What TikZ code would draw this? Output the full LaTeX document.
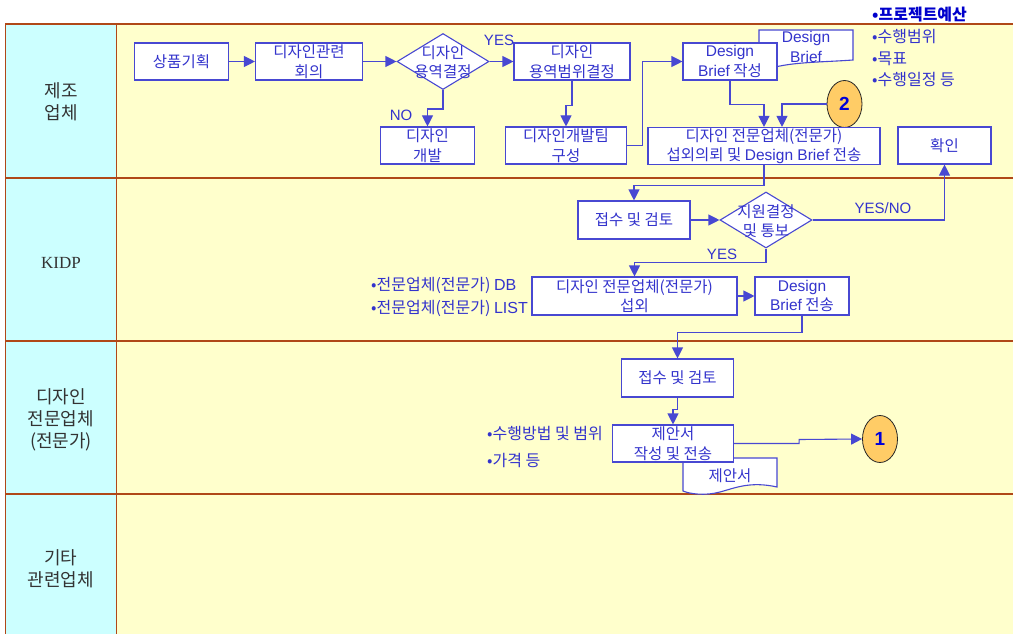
\documentclass[tikz,border=0pt]{standalone}
\usepackage{fontspec}
\newfontfamily\cjk{Noto Sans CJK KR}
\newfontfamily\lsans{Liberation Sans}
\newfontfamily\lserif{Liberation Serif}
\newcommand\lt[1]{{\lsans #1}}
\usetikzlibrary{arrows.meta,shapes.geometric}
\definecolor{bline}{RGB}{72,72,210}
\definecolor{btext}{RGB}{51,51,204}
\definecolor{lanebg}{RGB}{255,255,204}
\definecolor{labbg}{RGB}{204,255,255}
\definecolor{laneln}{RGB}{176,72,24}
\definecolor{circfill}{RGB}{255,204,102}
\begin{document}
\begin{tikzpicture}[x=1pt,y=-1pt,
  box/.style={draw=bline, fill=white, line width=1.1pt, text=btext, align=center, inner sep=0pt, minimum height=37pt, font=\cjk\fontsize{15.5}{19.5}\selectfont},
  dia/.style={diamond, draw=bline, fill=white, line width=1.1pt, inner sep=0pt, minimum width=92pt, minimum height=56pt},
  lbl/.style={text=btext, font=\cjk\fontsize{15.5}{19.5}\selectfont, inner sep=0pt, align=center},
  yn/.style={text=btext, font=\lsans\fontsize{15}{17}\selectfont, inner sep=0pt},
  conn/.style={draw=bline, line width=1.1pt, -{Triangle[length=11pt,width=11pt]}},
  lanetxt/.style={text=black!80, font=\cjk\fontsize{18}{22}\selectfont, align=center, inner sep=0pt},
  circ/.style={ellipse, draw=black!85, fill=circfill, line width=0.8pt, minimum width=35pt, minimum height=47pt, inner sep=0pt, text=blue!85!black, font=\lsans\bfseries\fontsize{19}{21}\selectfont},
  doc/.style={draw=bline, fill=white, line width=1.1pt},
  bul/.style={text=btext, font=\cjk\fontsize{16}{18}\selectfont, inner sep=0pt, anchor=west}
]
\useasboundingbox (0,0) rectangle (1013,634);
\clip (0,0) rectangle (1013,634);
% lanes
\fill[lanebg] (5,24) rectangle (1030,650);
\fill[labbg] (5,24) rectangle (116,650);
\draw[laneln, line width=1.2pt] (5,24) -- (1030,24);
\foreach \yy in {178,341,494} \draw[laneln, line width=1.5pt] (5,\yy) -- (1030,\yy);
\draw[laneln, line width=1pt] (5,24) -- (5,650);
\draw[laneln, line width=1pt] (116,24) -- (116,650);
\node[lanetxt] (L1) at (61,102) {제조\\업체};
\node[lanetxt, font=\lserif\fontsize{17}{20}\selectfont] (L2) at (61,263) {KIDP};
\node[lanetxt] (L3) at (61,420) {디자인\\전문업체\\(전문가)};
\node[lanetxt] (L4) at (61,569) {기타\\관련업체};

% row 1
\node[box, minimum width=94pt] (n1) at (181.5,61.5) {상품기획};
\node[box, minimum width=107pt] (n2) at (309,61.5) {디자인관련\\회의};
\node[dia] (d1) at (443,61.5) {};
\node[lbl] (d1t) at (443,62) {디자인\\용역결정};
\node[box, minimum width=116pt] (n3) at (572,61.5) {디자인\\용역범위결정};
\node[box, minimum width=94pt] (n4) at (427.5,145.5) {디자인\\개발};
\node[box, minimum width=121pt] (n5) at (566,145.5) {디자인개발팀\\구성};
\path[doc] (759,30) -- (853,30) -- (853,60) .. controls (825,62) and (800,62) .. (780,66) .. controls (770,68) and (762,68) .. (759,67) -- cycle;
\node[lbl] (doct1) at (806,47) {\lt{Design}\\\lt{Brief}};
\node[box, minimum width=94pt] (n6) at (730,61.5) {\lt{Design}\\\lt{Brief} 작성};
\node[circ] (c2) at (844.5,104) {2};
\node[box, minimum width=232pt] (n7) at (764,146) {디자인 전문업체(전문가)\\섭외의뢰 및 \lt{Design Brief} 전송};
\node[box, minimum width=93pt] (n8) at (944.5,145.5) {확인};
\node[bul, font=\cjk\bfseries\fontsize{16}{18}\selectfont, text=blue!80!black] (t1) at (872,15) {•프로젝트예산};
\node[bul] (t2) at (872,37) {•수행범위};
\node[bul] (t3) at (872,58.5) {•목표};
\node[bul] (t4) at (872,80) {•수행일정 등};

\draw[conn] (n1.east) -- (n2.west);
\draw[conn] (n2.east) -- (d1.west);
\draw[conn] (d1.east) -- (n3.west);
\node[yn] (yes1) at (499,40) {YES};
\draw[conn] (d1.south) -- ++(0,19) -| (n4.north);
\node[yn] (no1) at (401,115) {NO};
\draw[conn] (n3.south) -- ++(0,25) -| (n5.north);
\draw[conn] (n5.east) -- ++(15,0) |- (n6.west);
\draw[conn] (n6.south) -- ++(0,24) -| (n7.north);
\draw[conn] (c2.west) -| ([xshift=18pt]n7.north);

% row 2
\node[box, minimum width=112pt, minimum height=38pt] (n9) at (634,220) {접수 및 검토};
\node[dia] (d2) at (766,220) {};
\node[lbl] (d2t) at (766,221) {지원결정\\및 통보};
\node[box, minimum width=205pt, minimum height=38pt] (n10) at (634.5,296) {디자인 전문업체(전문가)\\섭외};
\node[box, minimum width=94pt, minimum height=38pt] (n11) at (802,296) {\lt{Design}\\\lt{Brief} 전송};
\node[bul] (b1) at (371,285) {•전문업체(전문가) \lt{DB}};
\node[bul] (b2) at (371,308) {•전문업체(전문가) \lt{LIST}};
\draw[conn] (n7.south) -- ++(0,20) -| (n9.north);
\draw[conn] (n9.east) -- (d2.west);
\draw[conn] (d2.east) -| (n8.south);
\node[yn] (yesno) at (883,208) {YES/NO};
\draw[conn] (d2.south) -- ++(0,14) -| (n10.north);
\node[yn] (yes2) at (722,254) {YES};
\draw[conn] (n10.east) -- (n11.west);

% row 3
\node[box, minimum width=112pt, minimum height=38pt] (n12) at (677.5,378) {접수 및 검토};
\path[doc] (683,458) -- (777,458) -- (777,487) .. controls (750,481) and (735,488) .. (720,492) .. controls (705,496) and (690,494) .. (683,491) -- cycle;
\node[lbl] (doct2) at (730,476) {제안서};
\node[box, minimum width=121pt] (n13) at (673,443.5) {제안서\\작성 및 전송};
\node[circ] (c1) at (880,439) {1};
\node[bul] (b3) at (487,434) {•수행방법 및 범위};
\node[bul] (b4) at (487,460) {•가격 등};
\draw[conn] (n11.south) -- ++(0,17) -| (n12.north);
\draw[conn] (n12.south) -- ++(0,12) -| (n13.north);
\draw[conn] (n13.east) -- ++(65,0) -- ++(0,-4) -- (c1.west);
\end{tikzpicture}
\end{document}
